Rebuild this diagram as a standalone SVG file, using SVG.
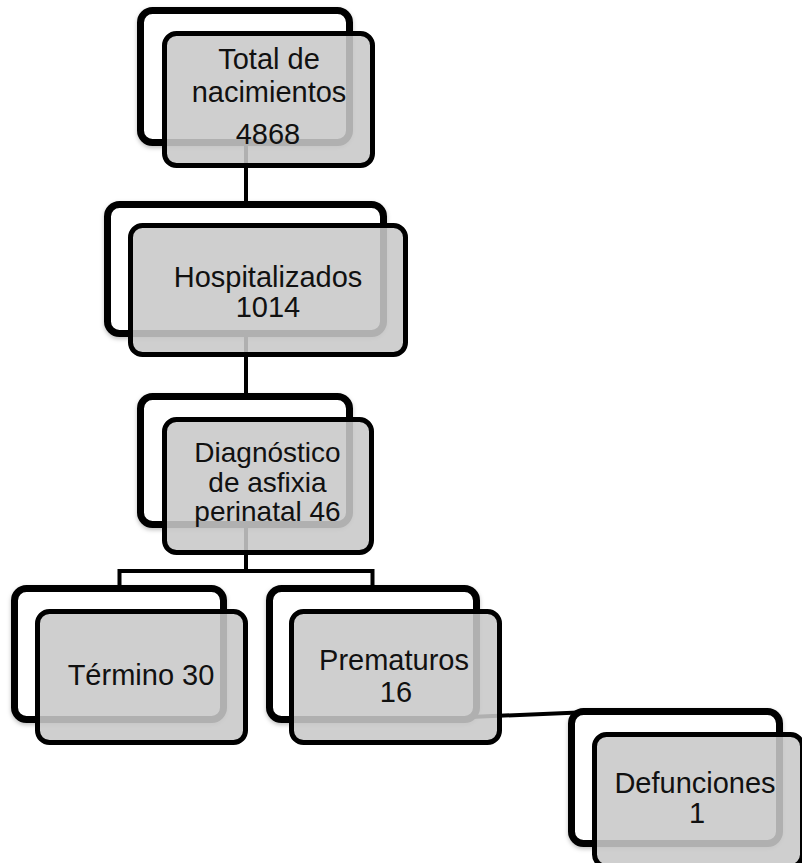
<svg xmlns="http://www.w3.org/2000/svg" width="802" height="863" viewBox="0 0 802 863">
<defs>
<filter id="sh" x="-10%" y="-10%" width="120%" height="130%">
<feDropShadow dx="0" dy="2" stdDeviation="2" flood-color="#000" flood-opacity="0.25"/>
</filter>
</defs>
<style>
.conn{stroke:#000;stroke-width:4;fill:none}
.back{fill:#fff;stroke:#000;stroke-width:7;filter:url(#sh)}
.front{fill:rgb(200,200,200);fill-opacity:0.88;stroke:#000;stroke-width:5}
.t{font-family:"Liberation Sans",Arial,sans-serif;font-size:29px;fill:#111;text-anchor:middle}
.s{font-size:28px}
</style>
<rect width="802" height="863" fill="#fff"/>
<g id="connectors">
<line class="conn" x1="246" y1="80" x2="246" y2="357"/>
<line class="conn" x1="246" y1="290" x2="246" y2="490"/>
<polyline class="conn" points="246,490 246,571"/>
<polyline class="conn" points="119.5,600 119.5,571 372.5,571 372.5,600"/>
<line class="conn" x1="470" y1="717" x2="590" y2="712"/>
</g>
<g id="n1">
<rect class="back" x="140.5" y="10.5" width="209" height="132" rx="12"/>
<rect class="front" x="164.5" y="33.5" width="208" height="132" rx="12"/>
<text class="t" x="269" y="69">Total de</text>
<text class="t" x="269" y="102">nacimientos</text>
<text class="t" x="268" y="144">4868</text>
</g>
<g id="n2">
<rect class="back" x="107.5" y="204.5" width="276" height="129" rx="12"/>
<rect class="front" x="130.5" y="225.5" width="275" height="129" rx="12"/>
<text class="t" x="268" y="287">Hospitalizados</text>
<text class="t" x="268" y="317">1014</text>
</g>
<g id="n3">
<rect class="back" x="140.5" y="396.5" width="209" height="128" rx="12"/>
<rect class="front" x="164.5" y="419.5" width="207" height="133" rx="12"/>
<text class="t s" x="267.5" y="462">Diagnóstico</text>
<text class="t s" x="267.5" y="491.5">de asfixia</text>
<text class="t s" x="267.5" y="521">perinatal 46</text>
</g>
<g id="n4">
<rect class="back" x="14.5" y="588.5" width="209" height="131" rx="12"/>
<rect class="front" x="37.5" y="611.5" width="208" height="131" rx="12"/>
<text class="t" x="141" y="685">Término 30</text>
</g>
<g id="n5">
<rect class="back" x="269.5" y="588.5" width="207" height="131" rx="12"/>
<rect class="front" x="291.5" y="611.5" width="208" height="131" rx="12"/>
<text class="t" x="394" y="670">Prematuros</text>
<text class="t" x="396" y="702">16</text>
</g>
<g id="n6">
<rect class="back" x="571.5" y="711.5" width="208" height="132" rx="12"/>
<rect class="front" x="594.5" y="734.5" width="208" height="132" rx="12"/>
<text class="t" x="695" y="793">Defunciones</text>
<text class="t" x="697" y="823">1</text>
</g>
</svg>
